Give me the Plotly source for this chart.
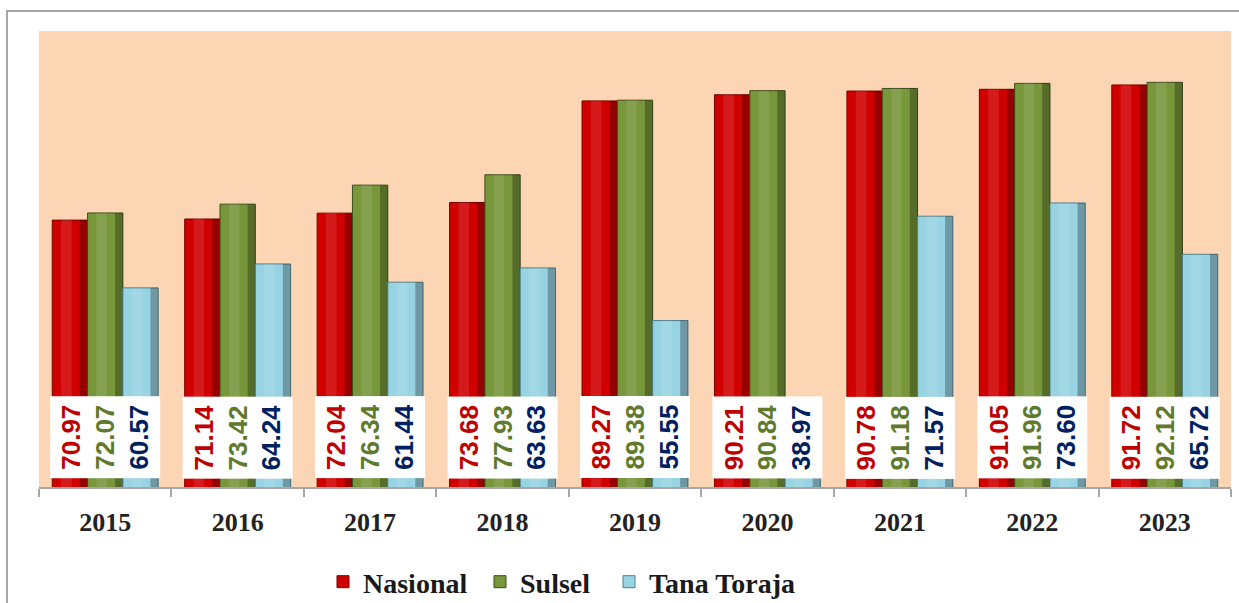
import plotly.graph_objects as go

years = ['2015', '2016', '2017', '2018', '2019', '2020', '2021', '2022', '2023']
nasional = [70.97, 71.14, 72.04, 73.68, 89.27, 90.21, 90.78, 91.05, 91.72]
sulsel = [72.07, 73.42, 76.34, 77.93, 89.38, 90.84, 91.18, 91.96, 92.12]
tana_toraja = [60.57, 64.24, 61.44, 63.63, 55.55, 38.97, 71.57, 73.60, 65.72]

series = [
    ('Nasional', nasional, '#d00000', '#7a0000', '#c00000', 112),
    ('Sulsel', sulsel, '#78963a', '#3c4d1c', '#5f7a2c', 84),
    ('Tana Toraja', tana_toraja, '#98d3e4', '#4f7e8c', '#002060', None),
]

W, H = 1239, 603
ML, MR, MT, MB = 39, 8, 31, 116
PW, PH = W - ML - MR, H - MT - MB

BARGAP = 0.2
BW = (1 - BARGAP) / len(series)

fig = go.Figure()
for k, (name, vals, col, edge, _, lw) in enumerate(series):
    off = -(1 - BARGAP) / 2 + k * BW
    fig.add_trace(go.Bar(
        x=years, y=vals, name=name, offset=off, width=BW,
        marker=dict(color=col, line=dict(color=edge, width=1)),
        hoverinfo='x+y+name', legendwidth=lw,
    ))
    # cylinder-like shading: darker right edge, lighter centre strip
    fig.add_trace(go.Bar(
        x=years, y=vals, offset=off + BW * 0.78, width=BW * 0.22,
        marker=dict(color='rgba(0,0,0,0.28)', line=dict(width=0)),
        showlegend=False, hoverinfo='skip',
    ))
    fig.add_trace(go.Bar(
        x=years, y=vals, offset=off + BW * 0.25, width=BW * 0.3,
        marker=dict(color='rgba(255,255,255,0.10)', line=dict(width=0)),
        showlegend=False, hoverinfo='skip',
    ))

# value label boxes (one white box per year, rotated numbers)
for i, yr in enumerate(years):
    parts = []
    for name, vals, _, _, tcol, _ in series:
        parts.append(f"<span style='color:{tcol}'>{vals[i]:.2f}</span>")
    fig.add_annotation(
        x=i, y=0, xref='x', yref='paper',
        xanchor='center', yanchor='bottom', yshift=8,
        text='<br>'.join(parts), textangle=-90,
        showarrow=False, bgcolor='white', borderpad=4,
        width=73, height=101,
        font=dict(family='Liberation Sans', size=26, weight='bold'),
    )

# outer frame
fig.add_shape(type='rect', xref='paper', yref='paper',
              x0=(7 - ML) / PW, x1=1.2, y0=-0.6, y1=(H - MB - 11) / PH,
              line=dict(color='#a6a6a6', width=2), layer='below')

fig.update_layout(
    width=W, height=H,
    margin=dict(l=ML, r=MR, t=MT, b=MB, pad=0),
    paper_bgcolor='white', plot_bgcolor='#fcd5b5',
    barmode='overlay',
    showlegend=True,
    legend=dict(orientation='h', x=(323 - ML) / PW, xanchor='left',
                yref='container', y=1 - 582 / H, yanchor='middle',
                font=dict(family='Liberation Serif', size=28, color='#1a1a1a', weight='bold'),
                bgcolor='rgba(0,0,0,0)', itemwidth=30, tracegroupgap=0),
    xaxis=dict(
        type='category', categoryorder='array', categoryarray=years,
        range=[-0.5, len(years) - 0.5], autorange=False,
        showgrid=False, zeroline=False,
        showline=True, linecolor='#a6a6a6', linewidth=2,
        ticks='outside', tickson='boundaries', ticklen=8, tickcolor='#a6a6a6', tickwidth=2,
        tickangle=0,
        tickfont=dict(family='Liberation Serif', size=26, color='#222222', weight='bold'),
        ticklabelstandoff=11,
    ),
    yaxis=dict(range=[30, 100], visible=False, showgrid=False, zeroline=False),
)

fig.write_html('out.html', config={'displayModeBar': False},
               post_script="document.body.style.margin='0px';")
